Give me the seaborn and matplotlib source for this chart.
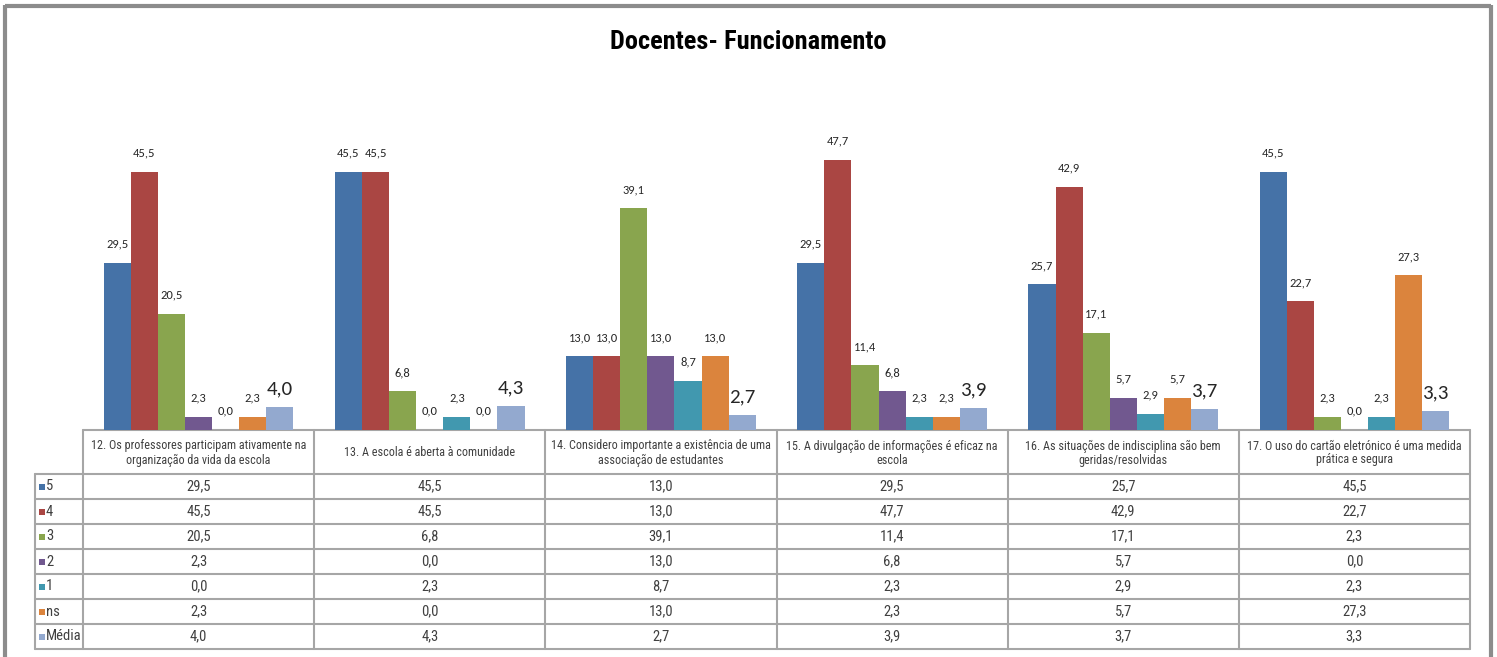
import textwrap
import numpy as np
import pandas as pd
import matplotlib
matplotlib.use("Agg")
import matplotlib.pyplot as plt
import seaborn as sns
from matplotlib.patches import Rectangle
from matplotlib import font_manager

# ---- data ----
categories = [
    "12. Os professores participam ativamente na organização da vida da escola",
    "13. A escola é aberta à comunidade",
    "14. Considero importante a existência de uma associação de estudantes",
    "15. A divulgação de informações é eficaz na escola",
    "16. As situações de indisciplina são bem geridas/resolvidas",
    "17. O uso do cartão eletrónico é uma medida prática e segura",
]
series_names = ["5", "4", "3", "2", "1", "ns", "Média"]
s5 = [29.5, 45.5, 13.0, 29.5, 25.7, 45.5]
s4 = [45.5, 45.5, 13.0, 47.7, 42.9, 22.7]
s3 = [20.5, 6.8, 39.1, 11.4, 17.1, 2.3]
s2 = [2.3, 0.0, 13.0, 6.8, 5.7, 0.0]
s1 = [0.0, 2.3, 8.7, 2.3, 2.9, 2.3]
sns_ = [2.3, 0.0, 13.0, 2.3, 5.7, 27.3]
media = [4.0, 4.3, 2.7, 3.9, 3.7, 3.3]
title = "Docentes- Funcionamento"

colors = ["#4572A7", "#AA4643", "#89A54E", "#71588F", "#4198AF", "#DB843D", "#93A9CF"]

all_series = [s5, s4, s3, s2, s1, sns_, media]
rows = []
for name, vals in zip(series_names, all_series):
    for c, v in zip(categories, vals):
        rows.append({"cat": c, "series": name, "value": v})
df = pd.DataFrame(rows)

def fmt(v):
    return f"{v:.1f}".replace(".", ",")

# ---- fonts ----
sns.set_theme(style="white")
plt.rcParams["font.family"] = ["Liberation Sans", "DejaVu Sans"]
ttf = font_manager.fontManager.ttflist
names = sorted({f.name for f in ttf})
preferred = ["Liberation Sans Narrow", "Arial Narrow", "Roboto Condensed",
             "Open Sans Condensed", "DejaVu Sans Condensed"]
narrow_names = [n for n in preferred if n in names] + \
               [n for n in names if ("Narrow" in n or "Condensed" in n) and n not in preferred]

def has_bold(n):
    return any(f.name == n and (f.weight in (600, 700, 800, "bold", "semibold"))
               for f in ttf)

if narrow_names:
    narrow_name = narrow_names[0]
    narrow = [narrow_name, "Liberation Sans", "DejaVu Sans"]
    hdr_fs, cell_fs = 8.7, 10.5
    bold_names = [n for n in narrow_names if has_bold(n)]
    if bold_names:
        title_font, title_fs = [bold_names[0], "Liberation Sans", "DejaVu Sans"], 19
    else:
        title_font, title_fs = ["Liberation Sans", "DejaVu Sans"], 16.5
else:
    narrow = ["Liberation Sans", "DejaVu Sans"]
    hdr_fs, cell_fs = 8.2, 9.8
    title_font, title_fs = ["Liberation Sans", "DejaVu Sans"], 16.5
calib = [f for f in ["Carlito", "Lato"] if f in names] + ["DejaVu Sans"]

# ---- figure ----
W, H = 1497, 657
fig = plt.figure(figsize=(W / 100, H / 100), dpi=100)

def px_box(x0, y0, x1, y1):
    return [x0 / W, 1 - y1 / H, (x1 - x0) / W, (y1 - y0) / H]

axf = fig.add_axes([0, 0, 1, 1])
axf.set_xlim(0, W)
axf.set_ylim(H, 0)
axf.axis("off")

ax = fig.add_axes(px_box(83, 100, 1470, 430))
sns.barplot(data=df, x="cat", y="value", hue="series", hue_order=series_names,
            order=categories, palette=colors, saturation=1, width=0.82,
            linewidth=0, edgecolor="none", legend=False, ax=ax, errorbar=None)
ax.set_xlim(-0.5, len(categories) - 0.5)
ax.set_ylim(0, 58.2)
ax.set_xlabel("")
ax.set_ylabel("")
ax.set_xticks([])
ax.set_yticks([])
for sp in ax.spines.values():
    sp.set_visible(False)
ax.patch.set_alpha(0)

for i, cont in enumerate(ax.containers):
    vals = all_series[i]
    if series_names[i] == "Média":
        ax.bar_label(cont, labels=[fmt(v) for v in vals], padding=7,
                     fontsize=15, family=calib, color="#262626")
    else:
        ax.bar_label(cont, labels=[fmt(v) for v in vals], padding=9.5,
                     fontsize=9, family=calib, color="#262626")

# ---- frame ----
fc = "#8C8C8C"
axf.plot([5, 5], [5, H], color=fc, lw=3, solid_capstyle="butt")
axf.plot([5, 1491], [5.5, 5.5], color=fc, lw=3, solid_capstyle="butt")
axf.plot([1491, 1491], [5, H], color=fc, lw=3, solid_capstyle="butt")

fig.text(748 / W, 1 - 42 / H, title, ha="center", va="center",
         fontsize=title_fs, fontweight="bold", family=title_font, color="#000000")

# ---- data table ----
lc = "#A6A6A6"
tc = "#404040"
col_x = np.linspace(83, 1470, len(categories) + 1)
row_y = [430, 474, 499, 524, 549, 574, 599, 624, 649]
lab_x0 = 35

axf.plot([83, 1470], [row_y[0], row_y[0]], color=lc, lw=1.5)
for y in row_y[1:]:
    axf.plot([lab_x0, 1470], [y, y], color=lc, lw=1.5)
axf.plot([lab_x0, lab_x0], [row_y[1], row_y[-1]], color=lc, lw=1.5)
for x in col_x:
    axf.plot([x, x], [row_y[0], row_y[-1]], color=lc, lw=1.5)

for j, c in enumerate(categories):
    cx = (col_x[j] + col_x[j + 1]) / 2
    cy = (row_y[0] + row_y[1]) / 2
    axf.text(cx, cy + 1, textwrap.fill(c, 44), ha="center", va="center",
             fontsize=hdr_fs, family=narrow, color=tc, linespacing=1.1)

for i, (name, vals) in enumerate(zip(series_names, all_series)):
    cy = (row_y[i + 1] + row_y[i + 2]) / 2
    axf.add_patch(Rectangle((38.5, cy - 3), 6, 6, color=colors[i], lw=0))
    axf.text(46, cy, name, ha="left", va="center", fontsize=cell_fs,
             family=narrow, color=tc)
    for j, v in enumerate(vals):
        cx = (col_x[j] + col_x[j + 1]) / 2
        axf.text(cx, cy, fmt(v), ha="center", va="center", fontsize=cell_fs,
                 family=narrow, color=tc)

fig.savefig("out.png", dpi=100)
